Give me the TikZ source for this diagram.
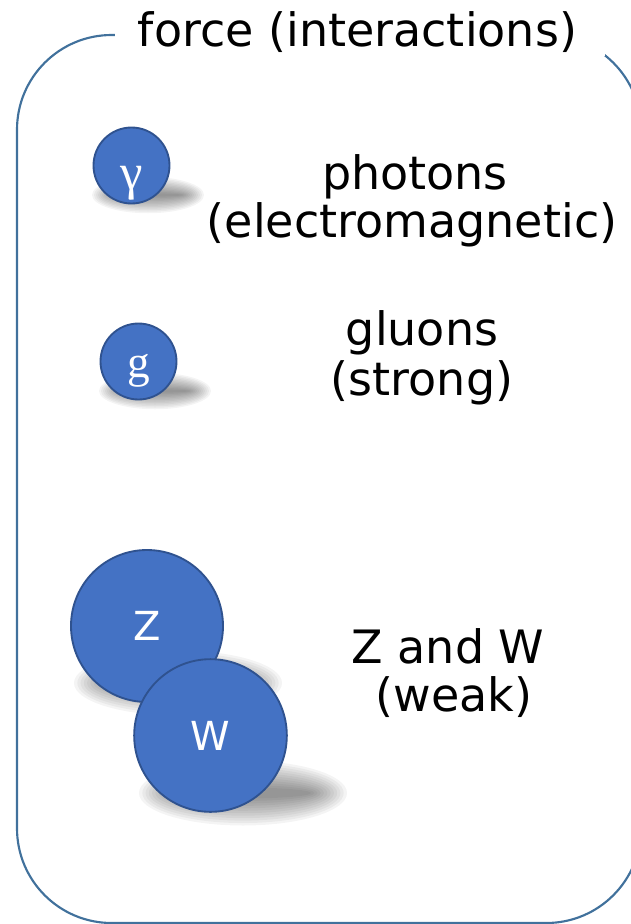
\documentclass[tikz,border=0pt]{standalone}
\usepackage{fontspec}
\setmainfont{DejaVu Sans}
\newfontfamily\gkserif{Liberation Serif}
\definecolor{ballfill}{HTML}{4472C4}
\definecolor{balldraw}{HTML}{2F528F}
\definecolor{framecol}{HTML}{41719C}
\tikzset{
  ball/.style={circle, fill=ballfill, draw=balldraw, line width=1.4pt, inner sep=0pt, text=white},
  frameline/.style={draw=framecol, line width=1.6pt, rounded corners=71pt},
  lbl/.style={anchor=base, font=\fontsize{34.5}{37}\selectfont, inner sep=0pt},
  balltxt/.style={font=\fontsize{30}{30}\selectfont},
  serifballtxt/.style={font=\fontsize{34}{34}\selectfont\gkserif},
  gammatxt/.style={font=\fontsize{38}{38}\selectfont\gkserif},
}
\newcommand{\softshadow}[5]{%
  \foreach \k in {0,...,11}{%
    \fill[black, opacity=0.045] (#1,#2) ellipse [x radius={#3+#5-2*#5*\k/11}, y radius={#4+0.75*#5-1.5*#5*\k/11}];
  }%
}
\begin{document}
\begin{tikzpicture}[x=0.75pt,y=-0.75pt]
  \useasboundingbox (0,0) rectangle (631,924);
  % frame
  \draw[frameline] (17,35) rectangle (641,923);
  \fill[white] (115,-2) rectangle (605,56);
  \node[lbl] (title) at (357.5,47) {force (interactions)};

  % photon
  \softshadow{148}{195}{45}{10}{11}
  \node[ball, minimum size=57pt, gammatxt] (gamma) at (131.5,165.5) {\raisebox{-18pt}[0pt][0pt]{γ}};
  \node[lbl] (ph1) at (415,189) {photons};
  \node[lbl] (ph2) at (412,237) {(electromagnetic)};

  % gluon
  \softshadow{155}{391}{45}{10}{11}
  \node[ball, minimum size=57pt, serifballtxt] (gluon) at (138.5,361.5) {\raisebox{-12pt}[0pt][0pt]{g}};
  \node[lbl] (gl1) at (422,345) {gluons};
  \node[lbl] (gl2) at (422,395) {(strong)};

  % Z and W
  \softshadow{178}{683}{86}{19}{18}
  \node[ball, minimum size=114pt, balltxt] (Z) at (147,626) {Z};
  \softshadow{243}{793}{86}{19}{18}
  \node[ball, minimum size=114.5pt, balltxt] (W) at (210.5,735.5) {W};
  \node[lbl] (zw1) at (448,663) {Z and W};
  \node[lbl] (zw2) at (454,711) {(weak)};
\end{tikzpicture}
\end{document}
